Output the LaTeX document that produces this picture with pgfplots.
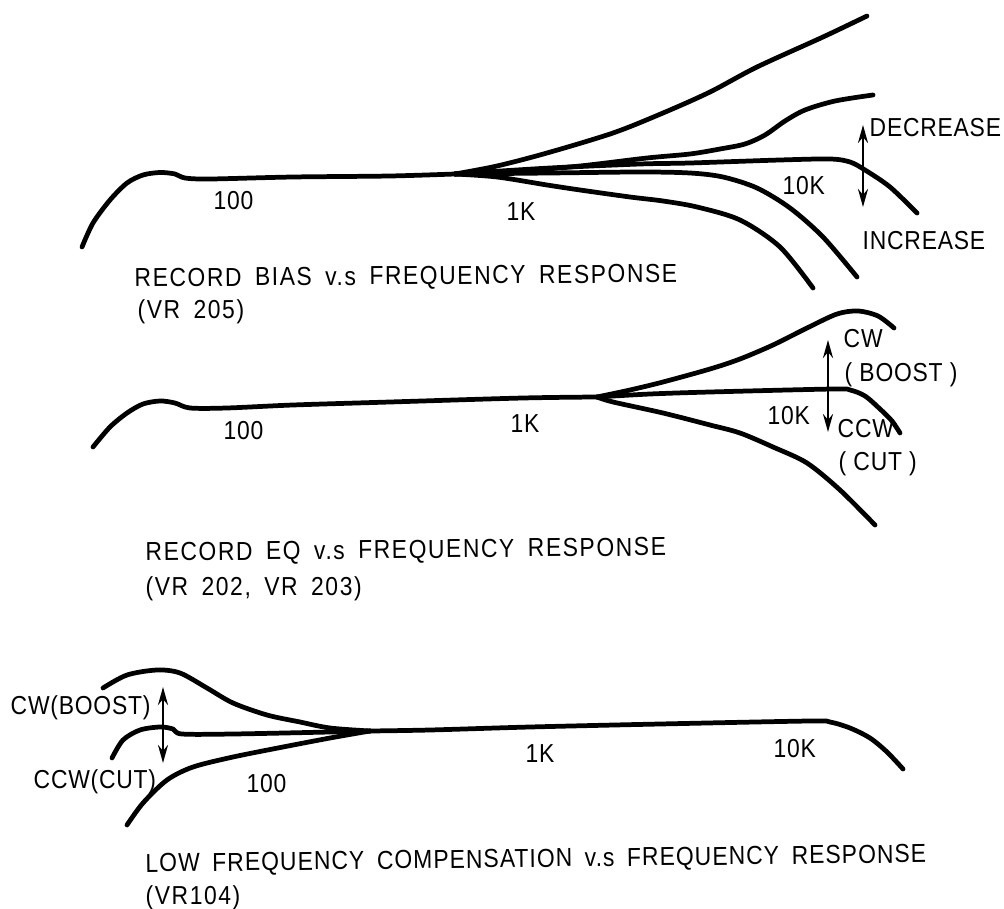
\documentclass[border=0pt]{standalone}
\usepackage{fontspec}
\setmainfont{Liberation Sans}[FakeStretch=0.88, LetterSpace=3]
\newfontfamily\titlefont{Liberation Sans}[FakeStretch=0.88, LetterSpace=6, WordSpace=1.7]
\newfontfamily\titlefontb{Liberation Sans}[FakeStretch=0.88, LetterSpace=4, WordSpace=1.7]
\usepackage{pgfplots}
\pgfplotsset{compat=1.18}
\usetikzlibrary{arrows.meta}
\tikzset{lab/.style={anchor=base west, inner sep=0pt, font=\fontsize{7.4}{9}\selectfont},
  ttl/.style={anchor=base west, inner sep=0pt, font=\titlefont\fontsize{7.4}{9}\selectfont}}
\pgfplotsset{cv/.style={black, solid, no markers, line width=1.35pt, smooth, tension=0.5, line cap=round, line join=round},
  arr/.style={black, solid, no markers, line width=0.7pt, sharp plot, {Stealth[length=1.8mm,width=1.0mm]}-{Stealth[length=1.8mm,width=1.0mm]}}}
\begin{document}
\begin{tikzpicture}
\useasboundingbox (0,0) rectangle (10.04cm,9.09cm);
\begin{axis}[width=10.04cm,height=9.09cm,scale only axis,
  xmin=0,xmax=1004,ymin=0,ymax=909,y dir=reverse,hide axis,clip=false]
% ---------- Panel 1: RECORD BIAS ----------
\addplot[cv] coordinates {(82,247) (93,223) (110,200) (127,183) (143,175) (160,172.5) (175,174) (185,178) (210,179) (293,177) (390,176) (455,174)};
\addplot[cv] coordinates {(455,174) (497,166) (547,153) (613,133) (663,113) (710,92) (757,67) (823,37) (867,16)};
\addplot[cv] coordinates {(455,174) (520,171) (580,166) (647,158) (690,154) (720,149) (745,144) (765,135) (785,121) (805,110) (835,101) (873,95)};
\addplot[cv] coordinates {(455,174) (550,168) (640,164) (690,163) (780,160) (830,159) (850,162) (865,170) (890,187) (917,213)};
\addplot[cv] coordinates {(455,174) (550,173) (640,172) (690,173) (723,177) (757,188) (790,208) (823,237) (857,277)};
\addplot[cv] coordinates {(455,174) (497,177) (547,185) (580,190) (630,197) (663,201) (697,207) (740,220) (780,247) (813,288)};
\addplot[arr] coordinates {(863,207) (863,125)};
\node[lab] at (axis cs:213,210) {100};
\node[lab] at (axis cs:506,221) {1K};
\node[lab] at (axis cs:782,195) {10K};
\node[lab] at (axis cs:869,137) {DECREASE};
\node[lab] at (axis cs:862,250) {INCREASE};
\node[ttl, rotate=0.5] at (axis cs:134,287) {RECORD BIAS v.s FREQUENCY RESPONSE};
\node[ttl] at (axis cs:137,319) {(VR 205)};
% ---------- Panel 2: RECORD EQ ----------
\addplot[cv] coordinates {(93,447) (110,427) (127,413) (143,404) (160,401) (175,403) (190,408) (227,408) (293,405) (390,402) (523,398) (597,397)};
\addplot[cv] coordinates {(597,397) (630,390) (663,382) (710,369) (740,359) (773,345) (807,328) (837,314) (858,311) (878,316) (894,328)};
\addplot[cv] coordinates {(597,397) (650,394) (710,392) (833,389) (850,390) (865,396) (880,409) (892,421) (900,433)};
\addplot[cv] coordinates {(597,397) (613,402) (663,413) (710,425) (740,433) (773,447) (807,463) (840,490) (875,525)};
\addplot[arr] coordinates {(828,432) (828,340)};
\node[lab] at (axis cs:223,439) {100};
\node[lab] at (axis cs:510,432) {1K};
\node[lab] at (axis cs:767,425) {10K};
\node[lab] at (axis cs:843,348) {CW};
\node[lab] at (axis cs:844,382) {( BOOST )};
\node[lab] at (axis cs:837,438) {CCW};
\node[lab] at (axis cs:838,470) {( CUT )};
\node[ttl, rotate=0.6] at (axis cs:145,561) {RECORD EQ v.s FREQUENCY RESPONSE};
\node[ttl] at (axis cs:145,595) {(VR 202, VR 203)};
% ---------- Panel 3: LOW FREQUENCY COMPENSATION ----------
\addplot[cv] coordinates {(103,688) (127,675) (157,670) (180,673) (207,688) (233,703) (267,715) (300,722) (330,728) (370,731)};
\addplot[cv] coordinates {(112,758) (123,740) (140,730) (160,727) (173,729) (182,734) (233,734) (330,732) (370,731)};
\addplot[cv] coordinates {(127,825) (143,803) (167,780) (193,767) (233,757) (283,747) (330,738) (370,731)};
\addplot[cv] coordinates {(370,731) (430,730) (530,727) (660,724) (810,721) (830,722) (850,728) (870,738) (887,752) (903,769)};
\addplot[arr] coordinates {(163,763) (163,687)};
\node[lab] at (axis cs:10,714) {CW(BOOST)};
\node[lab] at (axis cs:33,788) {CCW(CUT)};
\node[lab] at (axis cs:246,792) {100};
\node[lab] at (axis cs:525,762) {1K};
\node[lab] at (axis cs:773,757) {10K};
\node[anchor=base west, inner sep=0pt, font=\titlefontb\fontsize{7.4}{9}\selectfont, rotate=0.7] at (axis cs:145,872) {LOW FREQUENCY COMPENSATION v.s FREQUENCY RESPONSE};
\node[ttl] at (axis cs:145,904) {(VR104)};
\end{axis}
\end{tikzpicture}
\end{document}
